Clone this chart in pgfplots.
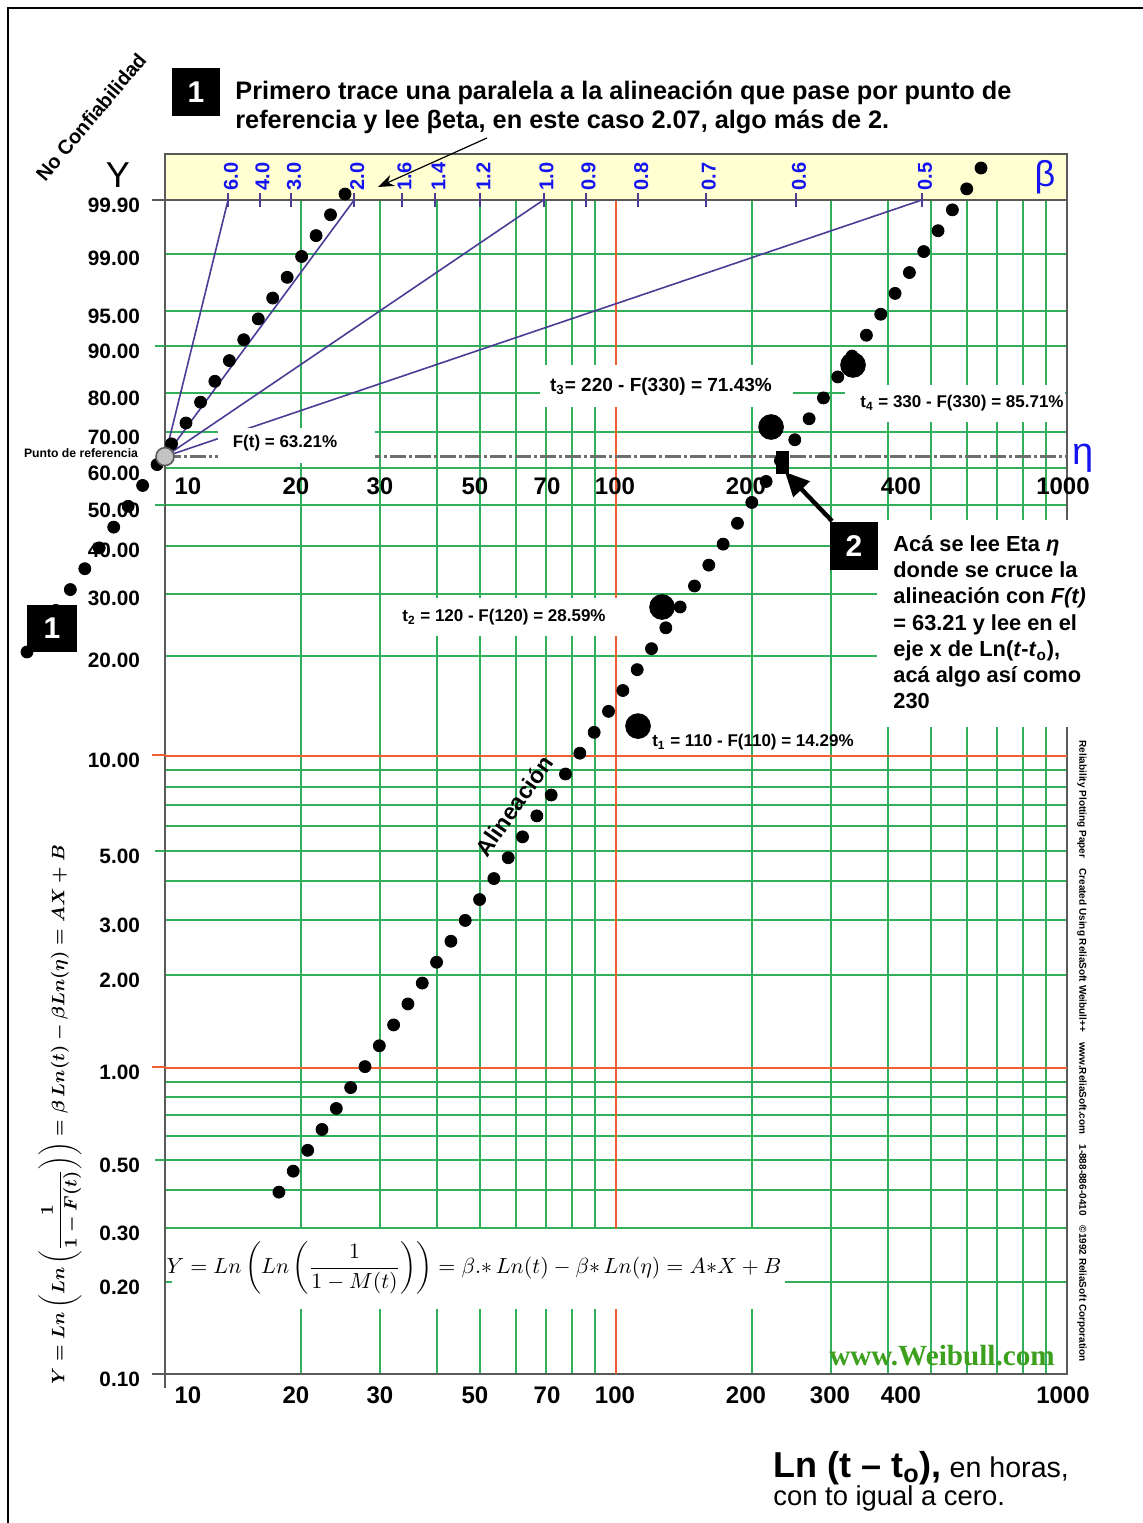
\documentclass[border=0pt]{standalone}
\usepackage{amsmath}
\usepackage{graphicx}
\usepackage{fontspec}
\setmainfont{Liberation Sans}
\newfontfamily\serifb{Liberation Serif}
\usepackage{pgfplots}
\pgfplotsset{compat=1.18}
\usetikzlibrary{arrows.meta}
\definecolor{gridgreen}{RGB}{50,175,90}
\definecolor{gridred}{RGB}{240,95,50}
\definecolor{bandyellow}{RGB}{255,255,210}
\definecolor{betablue}{RGB}{20,20,240}
\definecolor{betaline}{RGB}{75,60,150}
\definecolor{wgreen}{RGB}{60,160,30}
\definecolor{axgray}{RGB}{90,90,90}
\newcommand{\formulabox}{\(\displaystyle Y = Ln\left(Ln\left(\frac{1}{1-M(t)}\right)\right) = \beta.{*}\,Ln(t) - \beta{*}\,Ln(\eta) = A{*}X + B\)}
\newcommand{\ylabelformula}{\(\displaystyle \boldsymbol{Y = Ln\left(Ln\left(\frac{1}{1-F(t)}\right)\right) = \beta\, Ln(t) - \beta Ln(\eta) = AX + B}\)}
\begin{document}
\begin{tikzpicture}
\useasboundingbox (0,0) rectangle (571.5pt,761.5pt);
\fill[white] (0,0) rectangle (571.5pt,761.5pt);
\begin{axis}[
  at={(82.5pt,74.5pt)}, anchor=south west,
  scale only axis, width=451pt, height=610pt,
  xmode=log, xmin=10, xmax=1000,
  ymin=-6.9073, ymax=2.2786,
  axis line style={axgray, line width=1pt},
  xtick={20,30,40,50,60,70,80,90,200,300,400,500,600,700,800,900},
  xticklabels={},
  xminorticks=false,
  extra x ticks={100}, extra x tick labels={},
  extra x tick style={grid=major, grid style={gridred, line width=1pt}, major grid style={gridred, line width=1pt}},
  ytick={-6.9073,-6.2136,-5.8077,-5.2958,-3.9019,-3.4913,-2.9702,-1.4999,-1.0309,-0.6717,-0.3665,-0.0874,0.1856,0.4759,0.8340,1.0972,1.5272,1.9326},
  yticklabels={0.10,0.20,0.30,0.50,2.00,3.00,5.00,20.00,30.00,40.00,50.00,60.00,70.00,80.00,90.00,95.00,99.00,99.90},
  extra y ticks={-4.6001,-2.2504}, extra y tick labels={1.00,10.00},
  extra y tick style={grid=major, grid style={gridred, line width=1pt}, major grid style={gridred, line width=1pt}},
  minor ytick={-5.5194,-5.1130,-4.9583,-4.8243,-4.7060,-3.1985,-2.7828,-2.6232,-2.4843,-2.3612},
  grid=both,
  major grid style={gridgreen, line width=1pt},
  minor grid style={gridgreen, line width=1pt},
  major tick length=0pt, minor tick length=0pt,
  yticklabel style={font=\bfseries\fontsize{10.4}{11}\selectfont, xshift=-9pt, yshift=-2.5pt},
  clip=false,
]
% beta band
\addplot[fill=bandyellow, draw=axgray, line width=1pt] coordinates {(10,1.9326) (1000,1.9326) (1000,2.2786) (10,2.2786)} -- cycle;
% reference line at F = 63.21 %
\addplot[color={rgb,255:red,110;green,110;blue,110}, line width=1.3pt, dash pattern=on 8pt off 1.5pt on 1.5pt off 1.5pt] coordinates {(10,0) (1000,0)};
% beta guide lines
\addplot[betaline, line width=0.8pt] coordinates {(10,0) (13.80,1.9326)};
\addplot[betaline, line width=0.8pt] coordinates {(10,0) (26.28,1.9326)};
\addplot[betaline, line width=0.8pt] coordinates {(10,0) (69.07,1.9326)};
\addplot[betaline, line width=0.8pt] coordinates {(10,0) (477.1,1.9326)};
% alignment (data)
\addplot[only marks, mark=*, mark size=3pt, black] coordinates {
(17.89,-5.538) (19.25,-5.380) (20.72,-5.223) (22.29,-5.066) (23.98,-4.908) (25.80,-4.751) (27.76,-4.593) (29.87,-4.436) (32.13,-4.279) (34.57,-4.121)
(37.19,-3.964) (40.01,-3.807) (43.05,-3.649) (46.31,-3.492) (49.83,-3.335) (53.61,-3.177) (57.68,-3.020) (62.05,-2.863) (66.76,-2.705) (71.83,-2.548)
(77.28,-2.390) (83.14,-2.233) (89.45,-2.076) (96.25,-1.918) (103.56,-1.761) (111.42,-1.604) (119.87,-1.446) (128.97,-1.289) (138.76,-1.132) (149.29,-0.974)
(160.62,-0.817) (172.81,-0.659) (185.93,-0.502) (200.04,-0.345) (215.22,-0.187) (231.55,-0.030) (249.13,0.127) (268.03,0.285) (288.37,0.442) (310.26,0.600)
(333.80,0.757) (359.14,0.914) (386.39,1.072) (415.72,1.229) (447.27,1.386) (481.21,1.544) (517.73,1.701) (557.02,1.858) (599.30,2.016) (644.79,2.173)};
% parallel line through the reference point
\addplot[only marks, mark=*, mark size=3pt, black] coordinates {
(25.07,1.977) (23.28,1.821) (21.63,1.664) (20.09,1.507) (18.66,1.350) (17.33,1.194) (16.10,1.037) (14.95,0.880) (13.89,0.723) (12.90,0.567)
(11.99,0.410) (11.13,0.253) (10.34,0.096) (9.604,-0.060) (8.921,-0.217) (8.286,-0.374) (7.697,-0.531) (7.149,-0.687) (6.641,-0.844) (6.168,-1.001)
(5.729,-1.158) (5.322,-1.314) (4.943,-1.471)};
% t1..t4
\addplot[only marks, mark=*, mark size=6.2pt, black] coordinates {(111.9,-2.029) (126.5,-1.1325) (220.7,0.223) (335.4,0.690)};
% reference point
\addplot[only marks, mark=*, mark size=4.5pt, mark options={fill={rgb,255:red,195;green,195;blue,195}, draw=axgray, line width=0.8pt}] coordinates {(10,0)};
% eta reading
\addplot[only marks, mark=square*, mark size=5.5pt, mark options={xscale=0.55}, black] coordinates {(233.4,-0.041)};
\end{axis}
\begin{scope}[x=0.5pt,y=-0.5pt,shift={(0pt,761.5pt)}]
% frame
\draw[black, line width=0.8pt] (8,1540) -- (8,8) -- (1150,8);
% small tick extensions
\draw[axgray, line width=1pt] (152,200) -- (165,200) (152,1374) -- (165,1374) (165,1374) -- (165,1388);
\draw[gridgreen, line width=1pt] (155,345.8) -- (165,345.8) (155,505.3) -- (165,505.3) (155,851) -- (165,851) (155,1159.9) -- (165,1159.9);
\draw[gridred, line width=1pt] (152,755.5) -- (165,755.5) (152,1067.5) -- (165,1067.5);
% beta scale
\foreach \x/\l in {228.1/6.0, 259.6/4.0, 291.1/3.0, 354.2/2.0, 401.6/1.6, 435.4/1.4, 480.4/1.2, 543.5/1.0, 585.6/0.9, 638.2/0.8, 705.7/0.7, 795.9/0.6, 922.0/0.5} {
  \draw[betaline, line width=1pt] (\x,193) -- (\x,207);
  \node[rotate=90, anchor=west, text=betablue, font=\bfseries\fontsize{10}{10}\selectfont, inner sep=0pt] at (\x+3,191) {\l};
}
\node[text=betablue, font=\fontsize{18}{18}\selectfont, inner sep=0pt] at (1045,177) {β};
\node[text=betablue, font=\fontsize{19}{19}\selectfont, inner sep=0pt] at (1083,458) {η};
% white label boxes
\fill[white] (218,428) rectangle (375,463);
\fill[white] (540,365) rectangle (793,407);
\fill[white] (845,385) rectangle (1065,422);
\fill[white] (395,598) rectangle (630,636);
\fill[white] (877,520) rectangle (1100,727);
\fill[white] (172,1229) rectangle (785,1309);
\node[font=\bfseries\fontsize{8.5}{9}\selectfont] at (285,443) {F(t) = 63.21\%};
\node[font=\bfseries\fontsize{9.5}{10}\selectfont] at (661,387) {t\textsubscript{3}= 220 - F(330) = 71.43\%};
\node[font=\bfseries\fontsize{8.5}{9}\selectfont] at (962,403) {t\textsubscript{4} = 330 - F(330) = 85.71\%};
\node[font=\bfseries\fontsize{8.5}{9}\selectfont] at (504,617) {t\textsubscript{2} = 120 - F(120) = 28.59\%};
\node[font=\bfseries\fontsize{8.5}{9}\selectfont] at (753,742) {t\textsubscript{1} = 110 - F(110) = 14.29\%};
% x tick labels (eta row and bottom row)
\foreach \x/\l in {188/10, 296/20, 380/30, 475/50, 547/70, 615/100, 746/200, 901/400, 1063/1000} {
  \node[font=\bfseries\fontsize{12}{12}\selectfont] at (\x,486) {\l};
}
\foreach \x/\l in {188/10, 296/20, 380/30, 475/50, 547/70, 615/100, 746/200, 830/300, 901/400, 1063/1000} {
  \node[font=\bfseries\fontsize{12}{12}\selectfont] at (\x,1395) {\l};
}
% title
\fill[black] (172,68) rectangle (220,116);
\node[text=white, font=\bfseries\fontsize{15}{15}\selectfont] at (196,92) {1};
\node[anchor=base west, font=\bfseries\fontsize{12.65}{14}\selectfont, inner sep=0pt] at (235,100) {Primero trace una paralela a la alineación que pase por punto de};
\node[anchor=base west, font=\bfseries\fontsize{12.65}{14}\selectfont, inner sep=0pt] at (235,129) {referencia y lee βeta, en este caso 2.07, algo más de 2.};
\draw[-{Stealth[length=8pt,width=6pt]}, line width=0.6pt] (487,138) -- (378,187);
\node[rotate=50, font=\bfseries\fontsize{10}{10}\selectfont, inner sep=0pt] at (91,117) {No Confiabilidad};
\node[font=\fontsize{18}{18}\selectfont, inner sep=0pt] at (118,175) {Y};
\node[font=\bfseries\fontsize{6.1}{7}\selectfont, inner sep=0pt] at (81,453) {Punto de referencia};
\fill[black] (27,605) rectangle (77,652);
\node[text=white, font=\bfseries\fontsize{15}{15}\selectfont] at (52,628) {1};
% alignment label
\node[rotate=55, font=\bfseries\fontsize{11.5}{12}\selectfont, inner sep=0pt] at (514,806) {Alineación};
% step 2
\fill[black] (830,522) rectangle (878,570);
\node[text=white, font=\bfseries\fontsize{15}{15}\selectfont] at (854,546) {2};
\draw[line width=2.2pt, -{Triangle[length=12pt,width=11pt]}] (832,521) -- (785,472);
\node[anchor=base west, font=\bfseries\fontsize{10.9}{12}\selectfont, inner sep=0pt] at (893,552) {Acá se lee Eta \textit{η}};
\node[anchor=base west, font=\bfseries\fontsize{10.9}{12}\selectfont, inner sep=0pt] at (893,577.5) {donde se cruce la};
\node[anchor=base west, font=\bfseries\fontsize{10.9}{12}\selectfont, inner sep=0pt] at (893,604) {alineación con \textit{F(t)}};
\node[anchor=base west, font=\bfseries\fontsize{10.9}{12}\selectfont, inner sep=0pt] at (893,630.5) {= 63.21 y lee en el};
\node[anchor=base west, font=\bfseries\fontsize{10.9}{12}\selectfont, inner sep=0pt] at (893,657) {eje x de Ln(\textit{t}-\textit{t}\textsubscript{o}),};
\node[anchor=base west, font=\bfseries\fontsize{10.9}{12}\selectfont, inner sep=0pt] at (893,683) {acá algo así como};
\node[anchor=base west, font=\bfseries\fontsize{10.9}{12}\selectfont, inner sep=0pt] at (893,708.5) {230};
% formulas
\node[font=\fontsize{10.9}{13}\selectfont, inner sep=0pt] at (474,1268) {\formulabox};
\node[inner sep=0pt] at (60,1115) {\fontsize{9.1}{11}\selectfont\rotatebox{90}{\ylabelformula}};
% other texts
\node[text=wgreen, font=\serifb\bfseries\fontsize{14.6}{15}\selectfont] at (942,1356) {www.Weibull.com};
\node[rotate=-90, font=\bfseries\fontsize{5}{6}\selectfont, inner sep=0pt] at (1082,1051) {Reliability Plotting Paper\quad Created Using ReliaSoft Weibull++\quad www.ReliaSoft.com\quad 1-888-886-0410\quad ©1992 ReliaSoft Corporation};
% axis title
\node[anchor=base west, inner sep=0pt] at (773,1477) {{\bfseries\fontsize{18}{20}\selectfont Ln (t – t\textsubscript{o}),}{\fontsize{14.3}{16}\selectfont\ en horas,}};
\node[anchor=base west, inner sep=0pt, font=\fontsize{13.7}{16}\selectfont] at (773,1505) {con to igual a cero.};
\end{scope}
\end{tikzpicture}
\end{document}
